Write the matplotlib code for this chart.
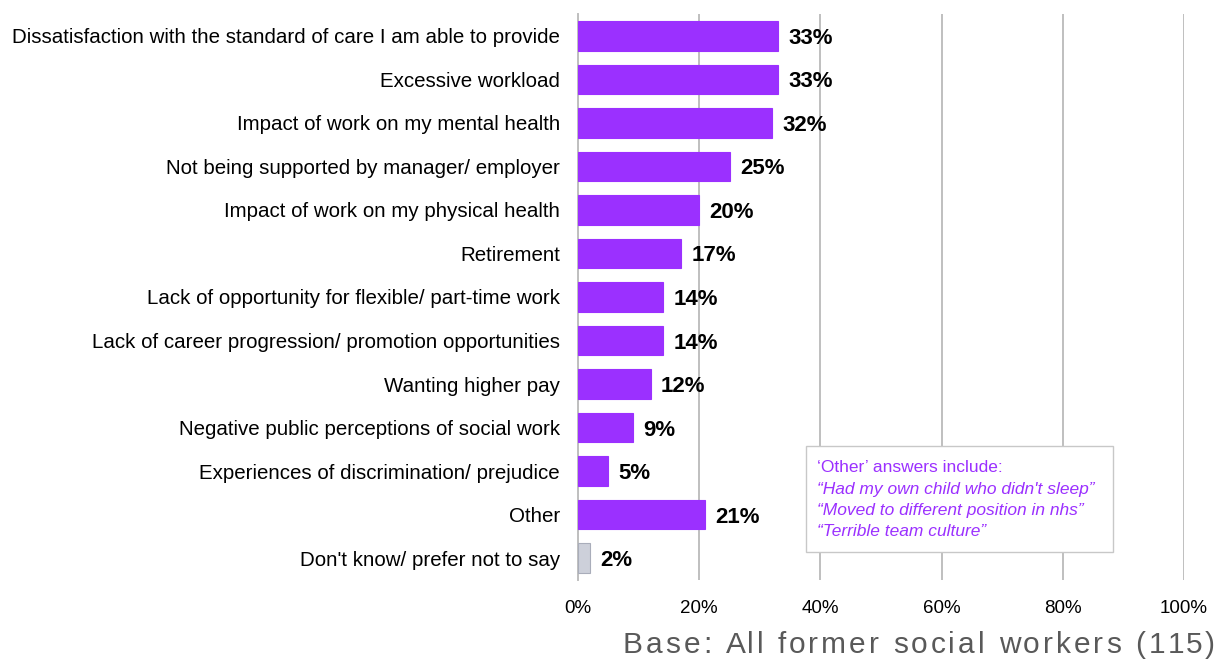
import matplotlib
matplotlib.use("Agg")
import matplotlib.pyplot as plt
from matplotlib.ticker import FuncFormatter
from matplotlib.patches import Rectangle

plt.rcParams["font.family"] = ["Liberation Sans", "DejaVu Sans"]

reasons = [
    "Dissatisfaction with the standard of care I am able to provide",
    "Excessive workload",
    "Impact of work on my mental health",
    "Not being supported by manager/ employer",
    "Impact of work on my physical health",
    "Retirement",
    "Lack of opportunity for flexible/ part-time work",
    "Lack of career progression/ promotion opportunities",
    "Wanting higher pay",
    "Negative public perceptions of social work",
    "Experiences of discrimination/ prejudice",
    "Other",
    "Don't know/ prefer not to say",
]
shares = [33, 33, 32, 25, 20, 17, 14, 14, 12, 9, 5, 21, 2]
ticks = [0, 20, 40, 60, 80, 100]
other_quotes = [
    "\u201cHad my own child who didn't sleep\u201d",
    "\u201cMoved to different position in nhs\u201d",
    "\u201cTerrible team culture\u201d",
]
base_note = "Base: All former social workers (115)"

PURPLE = "#9B30FF"
GREY_BAR = "#CDD0DA"
W, H = 1219, 662


def spaced_text(fig, s, x_right, y, spacing_px, **kw):
    """Right-aligned text with extra tracking between characters (pixel coords)."""
    r = fig.canvas.get_renderer()

    def width(t):
        tmp = fig.text(0, 0, t + "|", **kw)
        bar = fig.text(0, 0, "|", **kw)
        w = tmp.get_window_extent(r).width - bar.get_window_extent(r).width
        tmp.remove()
        bar.remove()
        return w

    offsets = [width(s[:i]) + i * spacing_px for i in range(len(s))]
    total = width(s) + (len(s) - 1) * spacing_px
    x0 = x_right - total
    for ch, off in zip(s, offsets):
        if ch != " ":
            fig.text((x0 + off) / W, 1 - y / H, ch, ha="left", va="center", **kw)


fig = plt.figure(figsize=(W / 100, H / 100), dpi=100)
ax = fig.add_axes([578 / W, 1 - 580 / H, (1184 - 578) / W, (580 - 14) / H])

colors = [PURPLE] * (len(reasons) - 1) + [GREY_BAR]
edges = [PURPLE] * (len(reasons) - 1) + ["#A9ADBA"]
ypos = list(range(len(reasons)))
ax.barh(ypos, shares, height=0.68, color=colors, edgecolor=edges, linewidth=0.8, zorder=3)

for y, v in zip(ypos, shares):
    ax.text(v + 1.7, y, f"{v}%", va="center_baseline", ha="left", fontsize=16,
            fontweight="bold", color="#000000", zorder=4)

ax.set_xlim(0, 100)
ax.set_ylim(len(reasons) - 0.5, -0.5)
ax.set_xticks(ticks)
ax.xaxis.set_major_formatter(FuncFormatter(lambda x, _: f"{x:.0f}%"))
ax.set_yticks(ypos)
ax.set_yticklabels(reasons)
ax.tick_params(axis="y", length=0, pad=13, labelsize=14.8, colors="#000000")
ax.tick_params(axis="x", length=0, pad=14.5, labelsize=13.5, colors="#000000")
ax.grid(axis="x", color="#BFBFBF", linewidth=1.4, zorder=0)
for side in ["top", "right", "bottom"]:
    ax.spines[side].set_visible(False)
ax.spines["left"].set_color("#BFBFBF")
ax.spines["left"].set_linewidth(1.4)
ax.spines["left"].set_zorder(1)

# callout box listing some of the free-text answers
box = Rectangle((806 / W, 1 - 552 / H), (1113 - 806) / W, (552 - 446) / H,
                transform=fig.transFigure, facecolor="white", edgecolor="#C8C8C8",
                linewidth=1.0, zorder=5)
fig.patches.append(box)
fig.text(817 / W, 1 - 468 / H, "\u2018Other\u2019 answers include:", fontsize=12.5,
         color=PURPLE, va="center", ha="left", zorder=6)
for i, q in enumerate(other_quotes):
    fig.text(817 / W, 1 - (489.5 + 21 * i) / H, q, fontsize=12.5, color=PURPLE,
             style="italic", va="center", ha="left", zorder=6)

spaced_text(fig, base_note, 1215, 645, 3.0, fontsize=21.5, color="#595959")

fig.savefig("out.png", dpi=100, facecolor="white")
